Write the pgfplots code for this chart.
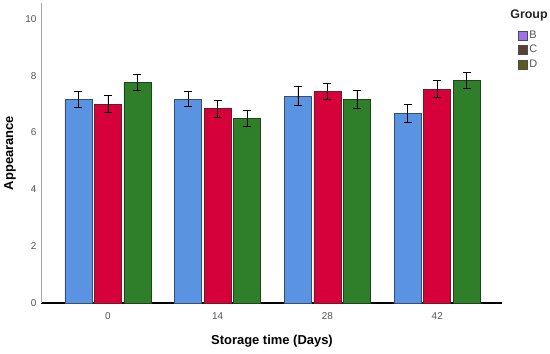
\documentclass[border=0pt]{standalone}
\usepackage{fontspec}
\setmainfont{Liberation Sans}
\usepackage{pgfplots}
\pgfplotsset{compat=1.18}
\definecolor{cB}{HTML}{5B93E3}
\definecolor{cC}{HTML}{D6003A}
\definecolor{cD}{HTML}{2F7F2A}
\definecolor{eB}{HTML}{34506E}
\definecolor{eC}{HTML}{6E1A28}
\definecolor{eD}{HTML}{1C451A}
\definecolor{lB}{HTML}{9E72EE}
\definecolor{lC}{HTML}{5C4034}
\definecolor{lD}{HTML}{5C5A1E}
\definecolor{tick}{HTML}{555555}
\begin{document}
\begin{tikzpicture}[x=1bp,y=1bp]
\useasboundingbox (0,0) rectangle (550,353);
\begin{axis}[
  at={(41bp,50bp)}, anchor=south west,
  scale only axis, width=461bp, height=300bp,
  xmin=-0.61, xmax=3.59, ymin=0, ymax=10.56,
  ybar, bar width=27bp,
  axis x line*=bottom, axis y line*=left,
  x axis line style={black, line width=2bp, -},
  y axis line style={gray!70, line width=0.8bp, -},
  xtick={0,1,2,3}, xticklabels={0,14,28,42},
  ytick={0,2,4,6,8,10},
  major tick length=0pt,
  /pgf/number format/assume math mode=true,
  tick label style={font=\fontsize{10}{12}\selectfont, text=tick},
  xticklabel style={yshift=-6bp},
  yticklabel style={xshift=-1bp},
  ylabel={\textbf{Appearance}}, xlabel={\textbf{Storage time (Days)}},
  label style={font=\fontsize{13}{15}\selectfont},
  ylabel style={at={(axis description cs:-0.067,0.5)}, anchor=center},
  xlabel style={at={(axis description cs:0.501,-0.127)}, anchor=center},
  legend image code/.code={\draw[#1, line width=0.6bp] (0bp,-4.5bp) rectangle (9bp,4.5bp);},
  legend style={at={(axis description cs:1.035,0.913)}, anchor=north west,
    draw=none, fill=none, inner sep=0pt, row sep=2.5bp,
    nodes={inner sep=1.5bp},
    font=\fontsize{11}{12}\selectfont, text=tick},
  legend cell align=left,
  error bars/y dir=both, error bars/y explicit,
  error bars/error bar style={black, line width=0.8bp},
  error bars/error mark options={rotate=90, mark size=4bp, black, line width=0.8bp},
]
\addlegendimage{fill=lB, draw=black!70}
\addlegendimage{fill=lC, draw=black!70}
\addlegendimage{fill=lD, draw=black!70}
\legend{B,C,D}
\addplot[fill=cB, draw=eB, line width=0.8bp, bar shift=-29.5bp] coordinates {
  (0,7.18) +- (0,0.28)
  (1,7.18) +- (0,0.27)
  (2,7.28) +- (0,0.34)
  (3,6.67) +- (0,0.33)
};
\addplot[fill=cC, draw=eC, line width=0.8bp, bar shift=0bp] coordinates {
  (0,7.00) +- (0,0.30)
  (1,6.84) +- (0,0.30)
  (2,7.46) +- (0,0.28)
  (3,7.53) +- (0,0.31)
};
\addplot[fill=cD, draw=eD, line width=0.8bp, bar shift=29.5bp] coordinates {
  (0,7.76) +- (0,0.27)
  (1,6.51) +- (0,0.28)
  (2,7.17) +- (0,0.31)
  (3,7.82) +- (0,0.28)
};
\end{axis}
\node[font=\bfseries\fontsize{12.5}{14}\selectfont, text=black!85] at (529bp,338bp) {Group};
\end{tikzpicture}
\end{document}
